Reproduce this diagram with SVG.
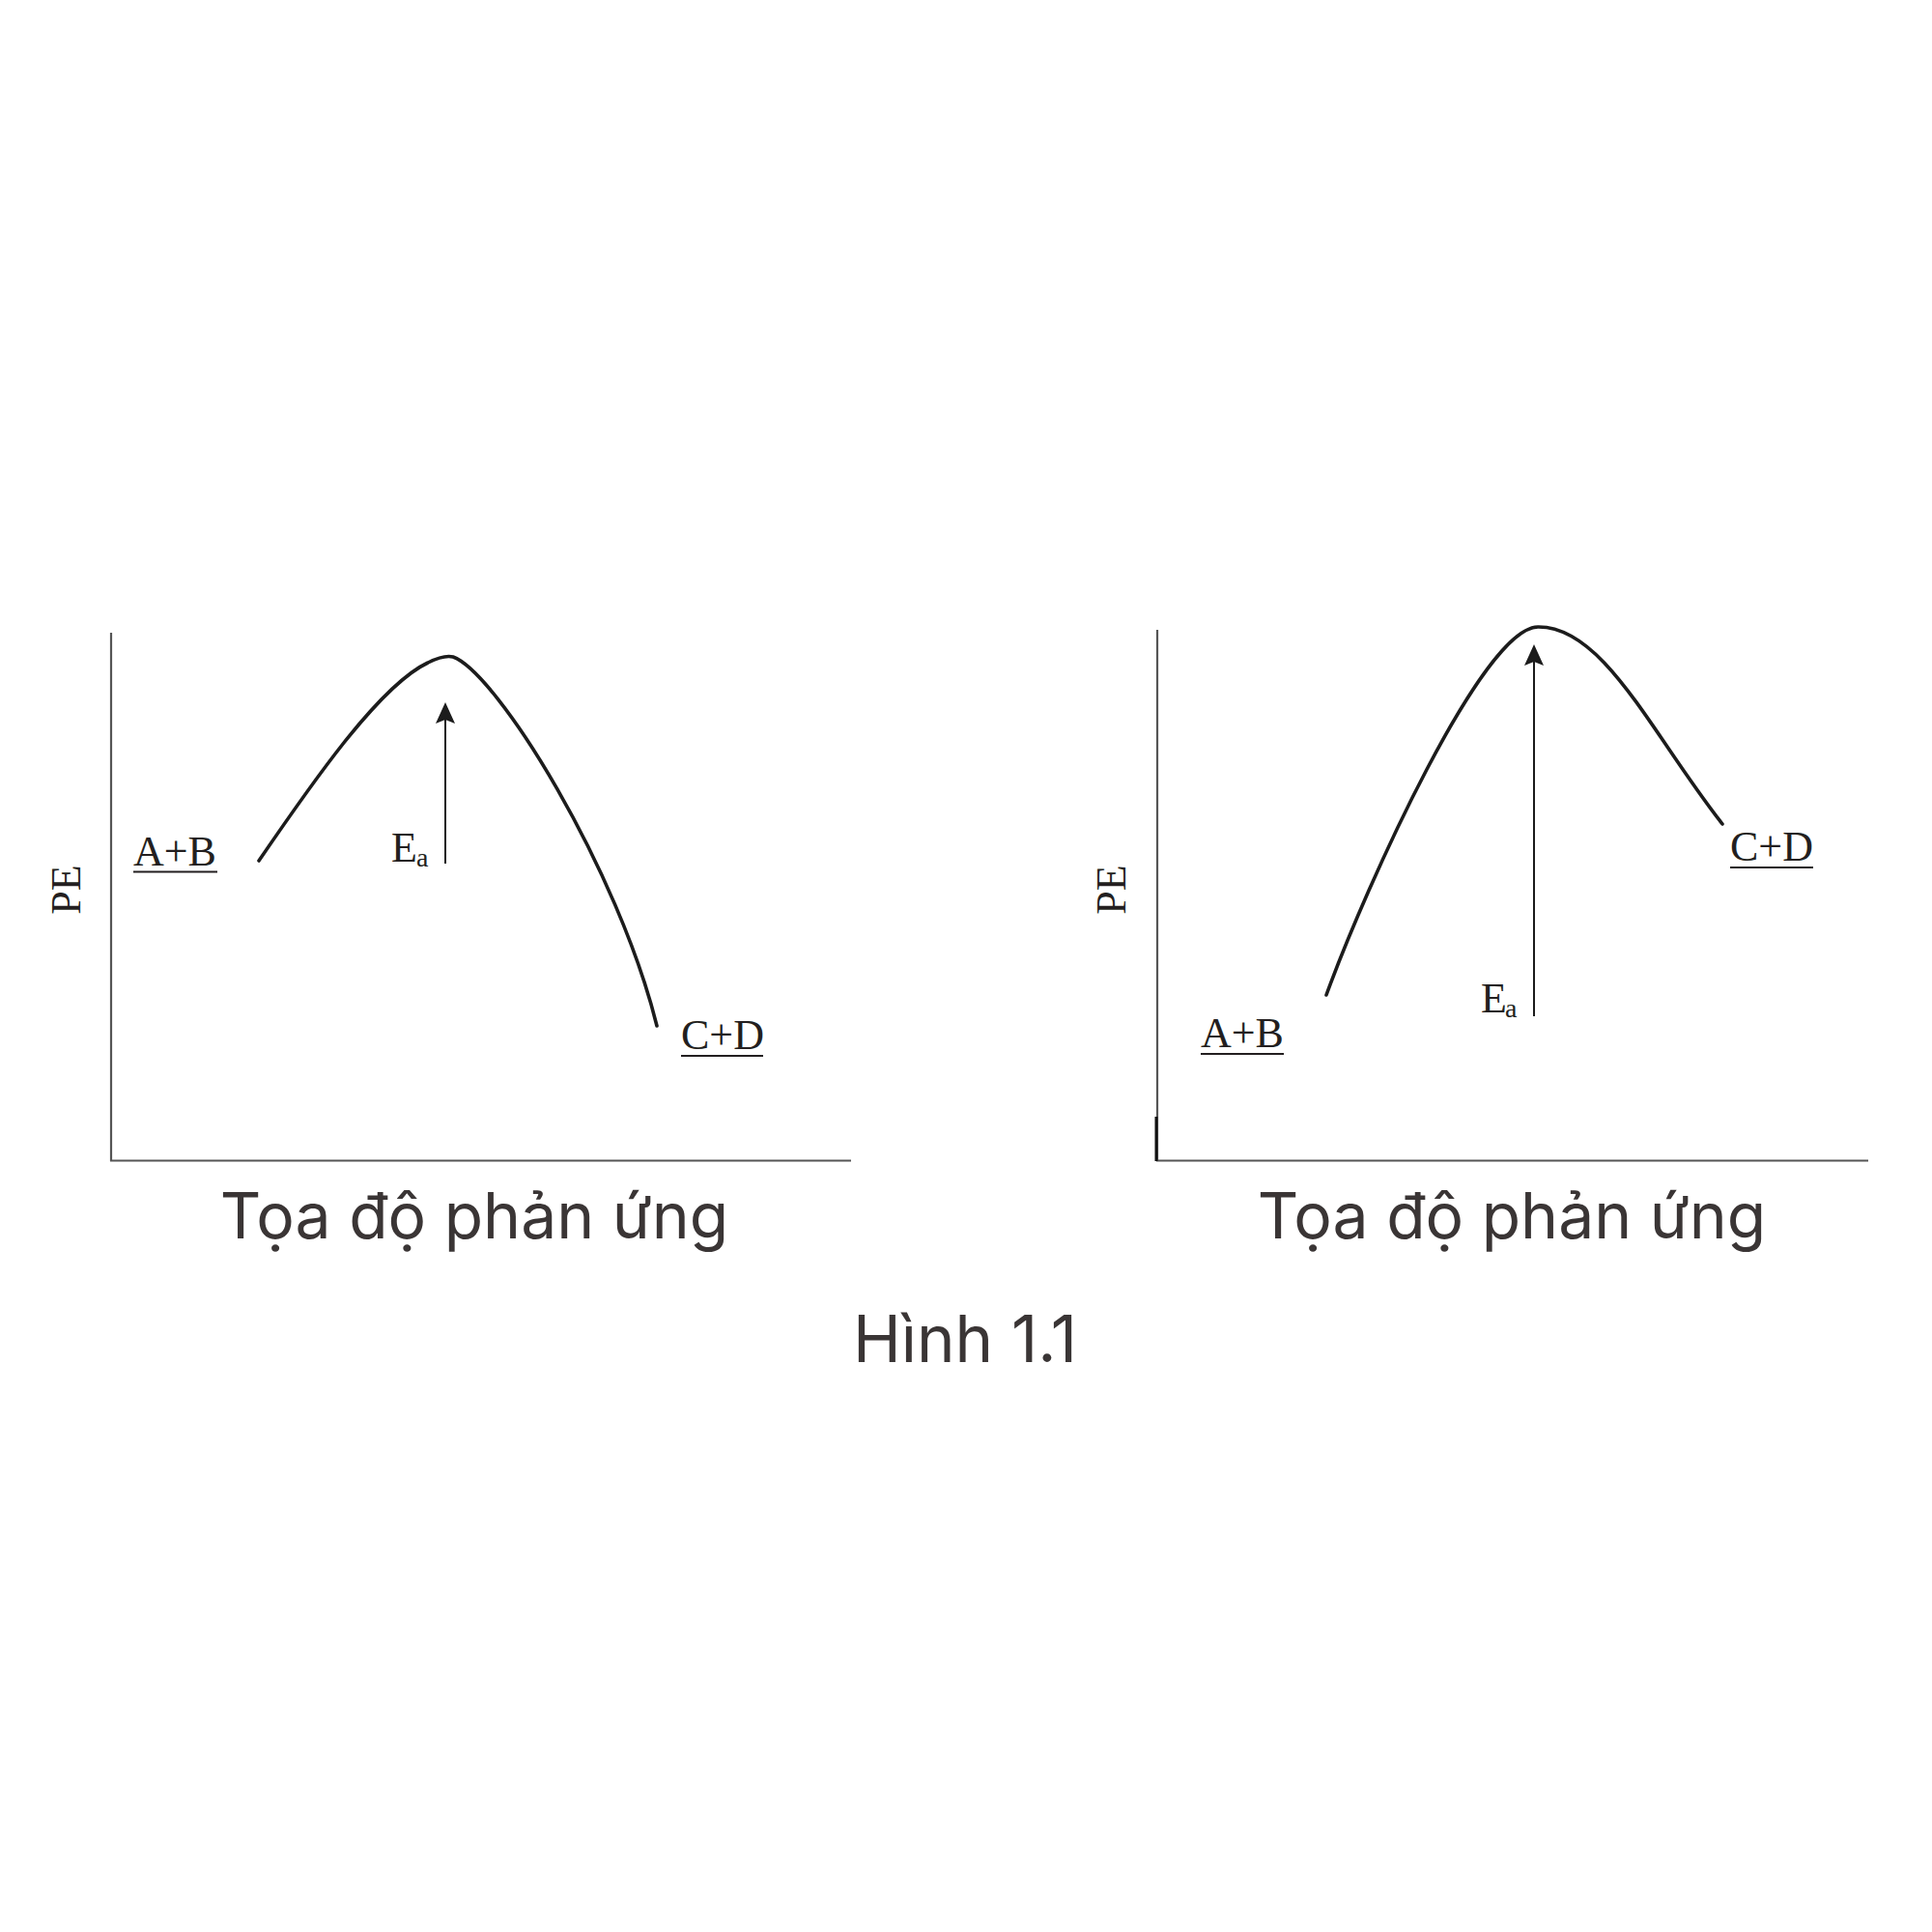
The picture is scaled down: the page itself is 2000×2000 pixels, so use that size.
<svg xmlns="http://www.w3.org/2000/svg" width="2000" height="2000" viewBox="0 0 2000 2000">
<style>
.axis{stroke:#555;stroke-width:2.2;fill:none}
.curve{stroke:#1c1c1c;stroke-width:3.6;fill:none;stroke-linecap:round;stroke-linejoin:round}
.arr{stroke:#1c1c1c;stroke-width:2;fill:none}
.head{fill:#1c1c1c}
.lbl{font-family:"Liberation Serif","Times New Roman",serif;font-size:44px;fill:#231f20}
.sub{font-family:"Liberation Serif","Times New Roman",serif;font-size:28px;fill:#231f20}
.ul{stroke:#231f20;stroke-width:2.2}
.cap{font-family:Inter,"Liberation Sans",sans-serif;font-size:66px;fill:#3a3535;text-anchor:middle}
</style>
<rect width="2000" height="2000" fill="#fff"/>
<g id="plot-left">
  <line class="axis" x1="115" y1="655" x2="115" y2="1202"/>
  <line class="axis" x1="114" y1="1201.5" x2="881" y2="1201.5"/>
  <text class="lbl" transform="translate(83,921) rotate(-90)" text-anchor="middle">PE</text>
  <path class="curve" d="M268,891 C320,815 392,710 443,686 C453,681 461,678 469,680 C515,697 640,900 680,1062"/>
  <g id="reactants-left"><text class="lbl" x="138" y="896">A+B</text><line class="ul" x1="138" y1="902.5" x2="225" y2="902.5"/></g>
  <g id="products-left"><text class="lbl" x="705" y="1086">C+D</text><line class="ul" x1="705" y1="1093" x2="790" y2="1093"/></g>
  <g id="ea-left"><text class="lbl" x="405" y="892">E</text><text class="sub" x="431" y="897">a</text></g>
</g>
<g id="plot-right">
  <line class="axis" x1="1198" y1="652" x2="1198" y2="1202"/>
  <line class="axis" x1="1197" y1="1201.5" x2="1934" y2="1201.5"/>
  <line x1="1197" y1="1156" x2="1197" y2="1202" stroke="#111" stroke-width="3"/>
  <text class="lbl" transform="translate(1165,921) rotate(-90)" text-anchor="middle">PE</text>
  <path class="curve" d="M1373,1030 C1415,915 1535,650 1592,649 C1660,648 1710,760 1783,853"/>
  <g id="reactants-right"><text class="lbl" x="1243" y="1084">A+B</text><line class="ul" x1="1243" y1="1091" x2="1329" y2="1091"/></g>
  <g id="products-right"><text class="lbl" x="1791" y="891">C+D</text><line class="ul" x1="1791" y1="898" x2="1877" y2="898"/></g>
  <g id="ea-right"><text class="lbl" x="1533" y="1047.5">E</text><text class="sub" x="1558" y="1053">a</text></g>
</g>
<g id="connectors">
  <line class="arr" x1="461" y1="894" x2="461" y2="740"/>
  <path class="head" d="M461,727 L471,749 L461,745 L451,749 Z"/>
  <line class="arr" x1="1588" y1="1052" x2="1588" y2="680"/>
  <path class="head" d="M1588,667 L1598,689 L1588,685 L1578,689 Z"/>
</g>
<g id="captions">
  <text class="cap" x="491" y="1282">Tọa độ phản ứng</text>
  <text class="cap" x="1565" y="1282">Tọa độ phản ứng</text>
  <text class="cap" x="999" y="1410" style="font-size:67px">Hình 1.1</text>
</g>
</svg>
